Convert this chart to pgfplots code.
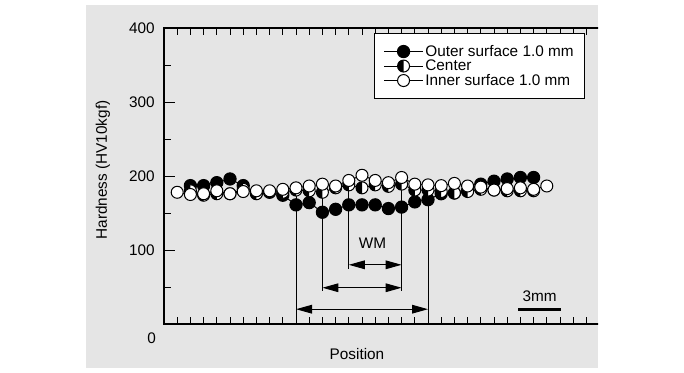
\documentclass[border=0pt]{standalone}
\usepackage{fontspec}
\setmainfont{Liberation Sans}
\usepackage{pgfplots}
\pgfplotsset{compat=1.18}
\usetikzlibrary{arrows.meta,plotmarks}
\definecolor{bg}{RGB}{229,229,229}
\pgfdeclareplotmark{lhalf}{%
  \pgfpathcircle{\pgfpointorigin}{\pgfplotmarksize}%
  \pgfsetfillcolor{white}\pgfusepathqfill
  \pgfpathmoveto{\pgfqpoint{0pt}{\pgfplotmarksize}}%
  \pgfpatharc{90}{270}{\pgfplotmarksize}%
  \pgfpathclose
  \pgfsetfillcolor{black}\pgfusepathqfill
  \pgfpathcircle{\pgfpointorigin}{\pgfplotmarksize}%
  \pgfusepathqstroke
}
\pgfplotstableread{
x y
2 187
3 187
4 191
5 196
6 187
7 177
8 178
9 174
10 161
11 164
12 151
13 155
14 161
15 161
16 161
17 156
18 158
19 165
20 168
21 176
22 177
23 180
24 189
25 193
26 196
27 198
28 198
}\outer
\pgfplotstableread{
x y
2 180
3 174
4 176
5 176
6 182
7 176
8 179
9 178
10 181
11 180
12 178
13 184
14 188
15 184
16 188
17 186
18 189
19 181
20 181
21 179
22 177
23 179
24 182
25 181
26 180
27 180
28 180
}\center
\pgfplotstableread{
x y
1 178
2 175
3 176
4 180
5 176
6 179
7 180
8 180
9 182
10 184
11 186.5
12 189
13 186.5
14 194
15 201
16 194
17 191
18 198
19 189
20 188
21 187
22 190
23 186.5
24 185
25 181
26 183
27 184
28 182
29 186.5
}\inner
\newcommand{\fs}{\fontsize{11.5}{13}\selectfont}
\begin{document}
\begin{tikzpicture}[x=1pt,y=1pt]
\useasboundingbox (0,0) rectangle (513,279);
\fill[bg] (64.5,3) rectangle (448.5,275.25);
\begin{scope}
\clip (64.5,3) rectangle (448.5,275.25);
\begin{axis}[
  at={(123pt,36pt)}, anchor=south west,
  scale only axis, width=336.6pt, height=222pt,
  xmin=0, xmax=34, ymin=0, ymax=400,
  xtick={0}, xticklabels={},
  minor xtick={1,...,33},
  ytick={100,200,300,400},
  minor ytick={50,150,250,350},
  ytick pos=left, xtick pos=both,
  tick align=inside,
  major tick length=8.25pt, minor tick length=5pt,
  every tick/.style={black, line width=0.75pt},
  axis line style={line width=1.5pt},
  yticklabel style={font=\fs, inner sep=0pt, xshift=-6.75pt},
  /pgf/number format/assume math mode=true,
  legend image code/.code={%
    \draw[mark repeat=2,mark phase=2] plot coordinates {(0pt,0pt) (14.5pt,0pt) (29pt,0pt)};},
  legend style={at={(axis cs:15.9,393.2)}, anchor=north west, draw=black, line width=0.75pt,
    fill=white, font=\fs, inner xsep=7pt, inner ysep=8pt, row sep=0pt,
    nodes={inner ysep=0.6pt, inner xsep=1.5pt},
    cells={anchor=west}},
  clip=false,
]
\addplot[black, line width=0.75pt, mark=*, mark size=4.6pt, mark options={fill=black}] table {\outer};
\addlegendentry{Outer surface 1.0 mm\hspace{30pt}}
\addplot[black, line width=0.75pt, mark=lhalf, mark size=4.5pt] table {\center};
\addlegendentry{Center}
\addplot[black, line width=0.75pt, mark=*, mark size=4.5pt, mark options={fill=white}] table {\inner};
\addlegendentry{Inner surface 1.0 mm}
\draw[line width=0.75pt] (axis cs:10,180) -- (axis cs:10,0);
\draw[line width=0.75pt] (axis cs:12,180) -- (axis cs:12,45);
\draw[line width=0.75pt] (axis cs:14,185) -- (axis cs:14,75);
\draw[line width=0.75pt] (axis cs:18,185) -- (axis cs:18,45);
\draw[line width=0.75pt] (axis cs:20,180) -- (axis cs:20,0);
\draw[line width=0.75pt, {Triangle[length=12pt,width=6.5pt]}-{Triangle[length=12pt,width=6.5pt]}] (axis cs:14,80) -- (axis cs:18,80);
\draw[line width=0.75pt, {Triangle[length=12pt,width=6.5pt]}-{Triangle[length=12pt,width=6.5pt]}] (axis cs:12,49) -- (axis cs:18,49);
\draw[line width=0.75pt, {Triangle[length=12pt,width=6.5pt]}-{Triangle[length=12pt,width=6.5pt]}] (axis cs:10,20) -- (axis cs:20,20);
\node[font=\fs] at (axis cs:15.8,109.5) {WM};
\draw[line width=2.4pt] (axis cs:26.85,20) -- (axis cs:30.1,20);
\node[font=\fs] at (axis cs:28.45,37.8) {3mm};
\end{axis}
\end{scope}
\node[font=\fs] at (113.8,25.5) {0};
\node[font=\fs] at (267.75,13.5) {Position};
\node[font=\fs, rotate=90] at (77.25,151.5) {Hardness (HV10kgf)};
\end{tikzpicture}
\end{document}
